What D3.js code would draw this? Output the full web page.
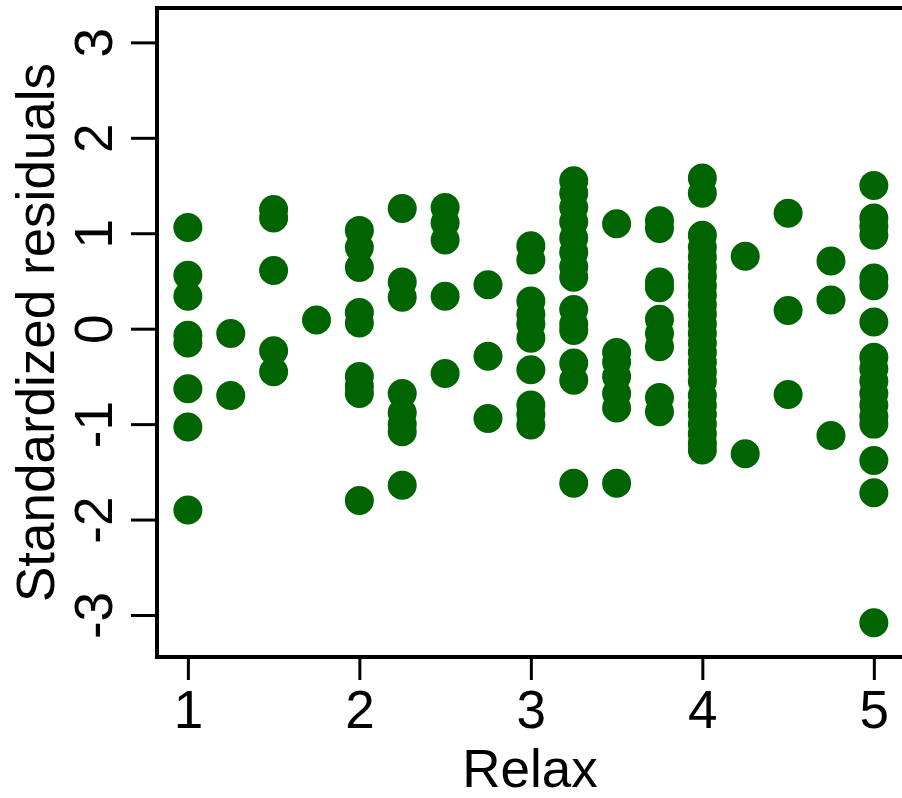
<!DOCTYPE html>
<html>
<head>
<meta charset="utf-8">
<script src="https://cdn.jsdelivr.net/npm/d3@7"></script>
<style>
  html, body { margin: 0; padding: 0; background: #fff; }
  svg text { font-family: "Liberation Sans", Arial, Helvetica, sans-serif; fill: #000; }
</style>
</head>
<body>
<div id="chart"></div>
<script>
// Relax levels (x) and the standardized residuals seen at each level
var relaxLevels = [1, 1.25, 1.5, 1.75, 2, 2.25, 2.5, 2.75, 3, 3.25, 3.5, 3.75, 4, 4.25, 4.5, 4.75, 5];
var residualsByLevel = [
  [1.06, 0.56, 0.34, -0.07, -0.15, -0.63, -1.03, -1.9],
  [-0.05, -0.7],
  [1.25, 1.16, 0.61, -0.23, -0.45],
  [0.09],
  [1.03, 0.85, 0.64, 0.17, 0.06, -0.5, -0.6, -0.68, -1.8],
  [1.26, 0.49, 0.33, -0.68, -0.88, -1.0, -1.08, -1.64],
  [1.27, 1.11, 0.93, 0.34, -0.47],
  [0.46, -0.29, -0.94],
  [0.87, 0.72, 0.29, 0.15, 0.05, -0.1, -0.43, -0.8, -0.9, -1.01],
  [1.55, 1.42, 1.27, 1.12, 0.95, 0.8, 0.65, 0.54, 0.2, 0.05, -0.02, -0.36, -0.54, -1.62],
  [1.1, -0.25, -0.35, -0.5, -0.68, -0.83, -1.62],
  [1.13, 1.05, 0.49, 0.43, 0.1, -0.05, -0.19, -0.72, -0.87],
  [1.58, 1.42, 0.98, 0.85, 0.75, 0.65, 0.55, 0.45, 0.35, 0.25, 0.15, 0.05, -0.05, -0.15, -0.25, -0.35,
   -0.45, -0.55, -0.7, -0.8, -0.9, -1.0, -1.1, -1.2, -1.27],
  [0.76, -1.31],
  [1.21, 0.19, -0.69],
  [0.71, 0.3, -1.12],
  [1.5, 1.16, 1.07, 0.98, 0.53, 0.45, 0.07, -0.3, -0.42, -0.55, -0.68, -0.8, -0.92, -1.0, -1.38, -1.72, -3.08]
];
var xTicks = [1, 2, 3, 4, 5];
var yTicks = [-3, -2, -1, 0, 1, 2, 3];

var WIDTH = 902,
    HEIGHT = 798,
    plot = { left: 157, right: 903, top: 8, bottom: 657 },
    FONT_SIZE = 53,
    DOT_RADIUS = 14.5,
    DOT_COLOR = '#006400';

var points = [];
relaxLevels.forEach(function (level, i) {
  residualsByLevel[i].forEach(function (r) {
    points.push({ relax: level, resid: r });
  });
});

var x = d3.scaleLinear().domain([0.82, 5.17]).range([plot.left, plot.right]);
var y = d3.scaleLinear().domain([-3.44, 3.36]).range([plot.bottom, plot.top]);

var svg = d3.select('#chart')
  .append('svg')
  .attr('width', WIDTH)
  .attr('height', HEIGHT);

svg.selectAll('circle.pt')
  .data(points)
  .enter()
  .append('circle')
  .attr('class', 'pt')
  .attr('cx', function (d) { return x(d.relax); })
  .attr('cy', function (d) { return y(d.resid); })
  .attr('r', DOT_RADIUS)
  .style('fill', DOT_COLOR);

// x axis
var xAxis = svg.append('g')
  .attr('transform', 'translate(0,' + plot.bottom + ')')
  .call(d3.axisBottom(x).tickValues(xTicks).tickSize(23).tickPadding(10)
    .tickFormat(function (d) { return String(d); }));
xAxis.select('.domain').remove();
xAxis.selectAll('line').attr('stroke', '#000').attr('stroke-width', 3);
xAxis.selectAll('text')
  .attr('y', 0)
  .attr('dy', 0)
  .attr('transform', 'translate(0,71)')
  .style('font-size', FONT_SIZE + 'px')
  .style('font-family', '"Liberation Sans", Arial, sans-serif')
  .attr('fill', '#000');

// y axis, labels turned like base R
var yAxis = svg.append('g')
  .attr('transform', 'translate(' + plot.left + ',0)')
  .call(d3.axisLeft(y).tickValues(yTicks).tickSize(26)
    .tickFormat(function (d) { return String(d); }));
yAxis.select('.domain').remove();
yAxis.selectAll('line').attr('stroke', '#000').attr('stroke-width', 3);
yAxis.selectAll('text')
  .attr('x', 0)
  .attr('dy', 0)
  .attr('text-anchor', 'middle')
  .attr('transform', 'translate(-45,0) rotate(-90)')
  .style('font-size', FONT_SIZE + 'px')
  .style('font-family', '"Liberation Sans", Arial, sans-serif')
  .attr('fill', '#000');

// box round the plot; its right side falls just outside the picture
svg.append('rect')
  .attr('x', plot.left)
  .attr('y', plot.top)
  .attr('width', plot.right + 4 - plot.left)
  .attr('height', plot.bottom - plot.top)
  .attr('fill', 'none')
  .attr('stroke', '#000')
  .attr('stroke-width', 4);

svg.append('text')
  .attr('x', (plot.left + plot.right) / 2)
  .attr('y', 787)
  .attr('text-anchor', 'middle')
  .style('font-size', FONT_SIZE + 'px')
  .text('Relax');

svg.append('text')
  .attr('transform', 'translate(54,' + ((plot.top + plot.bottom) / 2) + ') rotate(-90)')
  .attr('text-anchor', 'middle')
  .style('font-size', FONT_SIZE + 'px')
  .text('Standardized residuals');
</script>
</body>
</html>
